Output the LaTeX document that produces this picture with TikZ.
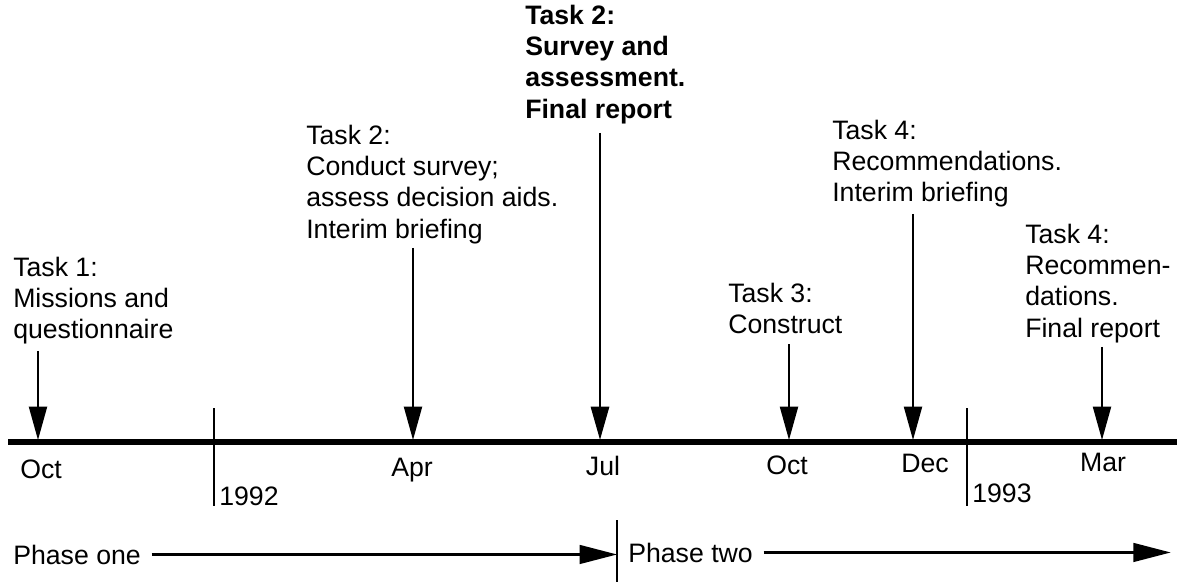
\documentclass[tikz,border=0pt]{standalone}
\usepackage{fontspec}
\setmainfont{Liberation Sans}
\usetikzlibrary{arrows.meta,positioning}

\begin{document}
\begin{tikzpicture}[x=0.75pt,y=-0.75pt,
    every node/.style={inner sep=0pt, font=\fontsize{20}{23.4}\selectfont},
    task/.style={align=left, anchor=north west},
    boldtask/.style={task, font=\fontsize{20}{23.4}\selectfont\bfseries},
    month/.style={anchor=base},
    year/.style={anchor=base west},
    taskarrow/.style={line width=1.5pt, -{Triangle[length=25pt,width=13.5pt]}},
    phasearrow/.style={line width=1.8pt, -{Triangle[length=28pt,width=14pt]}},
    tick/.style={line width=1.3pt}]
    \useasboundingbox (0,0) rectangle (1177,582);
    % time axis
    \coordinate (start) at (8,442);
    \coordinate (end) at (1177,442);
    \draw[line width=3.8pt] (start) -- (end);
    \coordinate (oct1) at (38,440);
    \coordinate (apr) at (413,440);
    \coordinate (jul) at (600,440);
    \coordinate (oct2) at (789,440);
    \coordinate (dec) at (913,440);
    \coordinate (mar) at (1102,440);
    \coordinate (y92) at (214,408);
    \coordinate (y93) at (967,408);
    \draw[tick] (y92) -- ++(0,98);
    \draw[tick] (y93) -- ++(0,98);

    \node[month] (m1) at (41,478) {Oct};
    \node[month] (m2) at (412,476) {Apr};
    \node[month] (m3) at (603,475) {Jul};
    \node[month] (m4) at (787,474) {Oct};
    \node[month] (m5) at (925,472) {Dec};
    \node[month] (m6) at (1103,471) {Mar};
    \node[year] (n92) at (219,505) {1992};
    \node[year] (n93) at (972,502) {1993};

    % tasks
    \node[task] (t1) at (13,257) {Task 1:\\Missions and\\questionnaire};
    \node[task] (t2) at (306,125) {Task 2:\\Conduct survey;\\assess decision aids.\\Interim briefing};
    \node[boldtask] (t2b) at (525,5) {Task 2:\\Survey and\\assessment.\\Final report};
    \node[task] (t3) at (728,283) {Task 3:\\Construct};
    \node[task] (t4) at (832,120) {Task 4:\\Recommendations.\\Interim briefing};
    \node[task] (t4b) at (1025,224) {Task 4:\\Recommen-\\dations.\\Final report};

    \draw[taskarrow] (t1.south -| oct1) ++(0,6) -- (oct1);
    \draw[taskarrow] (t2.south -| apr) ++(0,4) -- (apr);
    \draw[taskarrow, line width=2.2pt] (t2b.south -| jul) ++(0,9) -- (jul);
    \draw[taskarrow] (t3.south -| oct2) ++(0,10) -- (oct2);
    \draw[taskarrow] (t4.south -| dec) ++(0,6) -- (dec);
    \draw[taskarrow] (t4b.south -| mar) ++(0,4) -- (mar);

    % phases
    \coordinate (div) at (617,520);
    \draw[tick] (div) -- ++(0,62);
    \node[anchor=base west] (ph1) at (13,564) {Phase one};
    \node[anchor=base west] (ph2) at (628,562) {Phase two};
    \draw[phasearrow] ([xshift=8pt]ph1.east) -- (ph1.east -| div);
    \draw[phasearrow] ([xshift=8pt]ph2.east) -- ++(407,0);
\end{tikzpicture}
\end{document}
